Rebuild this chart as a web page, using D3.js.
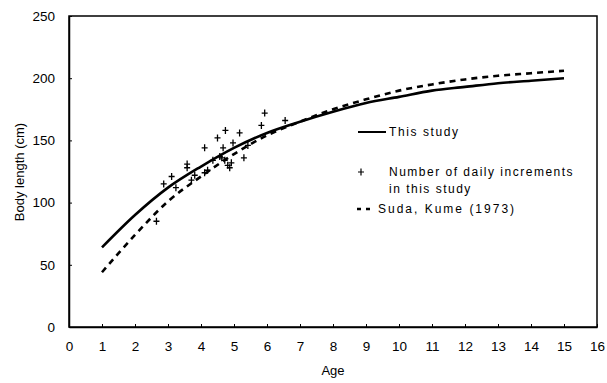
<!DOCTYPE html>
<html><head><meta charset="utf-8">
<script src="https://cdn.jsdelivr.net/npm/d3@7"></script>
<style>body{margin:0;background:#fff}svg{display:block}</style>
</head><body>
<svg id="c" width="607" height="383"></svg>
<script>
const ages = [1,2,3,4,5,6,7,8,9,10,11,12,13,14,15];
const thisStudy = [64,90,112,129,144,156,165,173,180,185,190,193,196,198,200];
const sudaKume = [44,74,101,121,139,154,165,175,183,190,195,199,202,204,206];
const incAge = [2.65,2.87,3.11,3.24,3.58,3.58,3.71,3.81,4.11,4.11,4.2,4.36,4.5,4.57,4.63,4.67,4.72,4.74,4.81,4.87,4.92,4.97,5.17,5.3,5.42,5.83,5.93,6.55];
const incLen = [85,115,121,112,131,128,118,122,144,124,126,134,152,137,136,144,134,158,130,128,132,148,156,136,146,162,172,166];
const xTicks = d3.range(0,17);
const yTicks = [0,50,100,150,200,250];
const legendLabels = ["This study","Number of daily increments","in this study","Suda, Kume (1973)"];

const svg = d3.select("#c");
const x = d3.scaleLinear().domain([0,16]).range([69,597]);
const y = d3.scaleLinear().domain([0,250]).range([327,16]);
const font = "'Liberation Sans', Arial, sans-serif";
const crossD = "M-3,0H3M0,-3.5V3.5";

// frame
svg.append("rect").attr("x",x(0)).attr("y",y(250)).attr("width",x(16)-x(0)).attr("height",y(0)-y(250))
  .attr("fill","none").attr("stroke","#000").attr("stroke-width",1.5);

// axes
const xa = svg.append("g").attr("transform",`translate(0,${y(0)})`)
  .call(d3.axisBottom(x).tickValues(xTicks).tickSizeInner(-3).tickSizeOuter(0).tickPadding(14));
const ya = svg.append("g").attr("transform",`translate(${x(0)},0)`)
  .call(d3.axisLeft(y).tickValues(yTicks).tickSizeInner(-3).tickSizeOuter(0).tickPadding(14));
[xa,ya].forEach(a=>{
  a.select(".domain").attr("stroke","#000").attr("stroke-width",1.5);
  a.selectAll(".tick line").attr("stroke","#000");
  a.selectAll(".tick text").attr("font-family",font).attr("font-size",13.5).attr("fill","#000");
});

// curves
const line = d3.line().x((d,i)=>x(ages[i])).y(d=>y(d)).curve(d3.curveMonotoneX);
svg.append("path").attr("d",line(thisStudy)).attr("fill","none").attr("stroke","#000").attr("stroke-width",2.6);
svg.append("path").attr("d",line(sudaKume)).attr("fill","none").attr("stroke","#000").attr("stroke-width",2.6)
  .attr("stroke-dasharray","6,5");

// points
svg.append("g").selectAll("path").data(incAge).join("path")
  .attr("transform",(d,i)=>`translate(${x(d)},${y(incLen[i])})`)
  .attr("d",crossD).attr("fill","none").attr("stroke","#000").attr("stroke-width",1.3);

// axis titles
svg.append("text").attr("x",333).attr("y",375).attr("text-anchor","middle").attr("font-family",font).attr("font-size",13).text("Age");
svg.append("text").attr("transform","translate(24,172) rotate(-90)").attr("text-anchor","middle").attr("font-family",font).attr("font-size",13).text("Body length (cm)");

// legend
const lg = svg.append("g").attr("font-family",font).attr("font-size",12).attr("letter-spacing","1.6px");
lg.append("line").attr("x1",358).attr("x2",386).attr("y1",132).attr("y2",132).attr("stroke","#000").attr("stroke-width",2);
lg.append("text").attr("x",389).attr("y",136).text(legendLabels[0]);
lg.append("path").attr("transform","translate(361,172)").attr("d",crossD).attr("fill","none").attr("stroke","#000").attr("stroke-width",1.2);
lg.append("text").attr("x",389).attr("y",176).attr("letter-spacing","1.5px").text(legendLabels[1]);
lg.append("text").attr("x",389).attr("y",193).attr("letter-spacing","1.5px").text(legendLabels[2]);
lg.append("line").attr("x1",357).attr("x2",371).attr("y1",209).attr("y2",209).attr("stroke","#000").attr("stroke-width",2.6).attr("stroke-dasharray","4,5");
lg.append("text").attr("x",378).attr("y",213).attr("letter-spacing","2px").text(legendLabels[3]);
</script>
</body></html>
